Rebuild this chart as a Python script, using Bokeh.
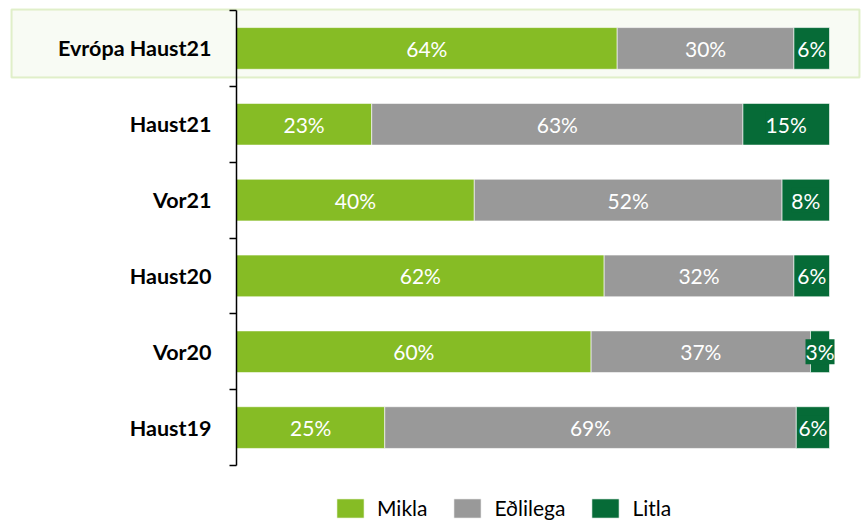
import numpy as np
from bokeh.plotting import figure
from bokeh.models import (ColumnDataSource, FixedTicker, BoxAnnotation, LabelSet,
                          Legend, LegendItem, Range1d)
from bokeh.core.properties import value
from bokeh.embed import file_html
from bokeh.resources import INLINE

categories = ["Evrópa Haust21", "Haust21", "Vor21", "Haust20", "Vor20", "Haust19"]
mikla = [64.2, 22.8, 40.1, 62.0, 59.8, 25.0]
edlilega = [29.8, 62.6, 51.9, 32.0, 37.0, 69.4]
litla = [6.0, 14.6, 8.0, 6.0, 3.2, 5.6]
series_names = ["Mikla", "Eðlilega", "Litla"]
colors = ["#86bc25", "#999999", "#066b37"]

n = len(categories)
ys = (n - 1 - np.arange(n)) + 0.5

FONT = "Lato"
W, H = 861, 521
# pixel geometry of the plot frame
px_axis, px_full = 236.0, 829.0
py_top, py_bot = 10.0, 465.0
ppx = (px_full - px_axis) / 100.0
ppy = (py_bot - py_top) / n

x0 = -px_axis / ppx
x1 = 100 + (W - px_full) / ppx
y1 = n + py_top / ppy
y0 = -(H - py_bot) / ppy

p = figure(width=W, height=H, output_backend="svg", toolbar_location=None,
           x_range=Range1d(x0, x1), y_range=Range1d(y0, y1),
           x_axis_location=None, min_border=0)
p.min_border_left = 0
p.min_border_right = 0
p.min_border_top = 0
p.min_border_bottom = 0
p.outline_line_color = None
p.xgrid.visible = False
p.ygrid.visible = False
p.background_fill_color = "white"
p.border_fill_color = "white"

# highlight box around the first row
box = BoxAnnotation(left=x0 + 11 / ppx, right=x1 - 2 / ppx,
                    top=n + 1 / ppy, bottom=n - 67 / ppy,
                    fill_color="#f8fbf4", fill_alpha=1.0,
                    line_color="#a3d05a", line_width=2, level="underlay")
p.add_layout(box)

m = np.array(mikla, dtype=float)
e = np.array(edlilega, dtype=float)
l = np.array(litla, dtype=float)

src = ColumnDataSource(dict(y=ys, Mikla=m, Eðlilega=e, Litla=l))
renderers = p.hbar_stack(series_names, y="y", height=0.55, color=colors,
                         source=src, line_color="white", line_width=0.6)

starts = [np.zeros(n), m, m + e]
vals = [m, e, l]
for s, v, c in zip(starts, vals, colors):
    lsrc = ColumnDataSource(dict(x=s + v / 2, y=ys,
                                 t=[f"{int(round(a))}%" for a in v]))
    ls = LabelSet(x="x", y="y", text="t", source=lsrc, text_align="center",
                  text_baseline="middle", text_color="white",
                  text_font=value(FONT), text_font_size="21px",
                  background_fill_color=c if c == colors[2] else None)
    p.add_layout(ls)

ax = p.yaxis[0]
ax.fixed_location = 0
ax.bounds = (0, n)
ax.ticker = FixedTicker(ticks=list(ys), minor_ticks=list(range(n + 1)))
ax.major_label_overrides = {float(y): c for y, c in zip(ys, categories)}
ax.major_tick_out = 0
ax.major_tick_in = 0
ax.minor_tick_out = 7
ax.minor_tick_in = 0
ax.minor_tick_line_color = "black"
ax.minor_tick_line_width = 1.5
ax.axis_line_color = "black"
ax.axis_line_width = 1.5
ax.major_label_standoff = 18
ax.major_label_text_font = FONT
ax.major_label_text_font_style = "bold"
ax.major_label_text_font_size = "21.5px"
ax.major_label_text_color = "black"

legend = Legend(items=[LegendItem(label=nm, renderers=[r]) for nm, r in zip(series_names, renderers)],
                orientation="horizontal", location=(333, 1),
                glyph_width=34, glyph_height=24, label_standoff=10, spacing=23,
                padding=0, margin=0, border_line_color=None,
                background_fill_alpha=0, label_text_font=FONT,
                label_text_font_size="21px", label_text_color="black")
p.add_layout(legend, "center")

open("out.html", "w").write(file_html(p, INLINE))
